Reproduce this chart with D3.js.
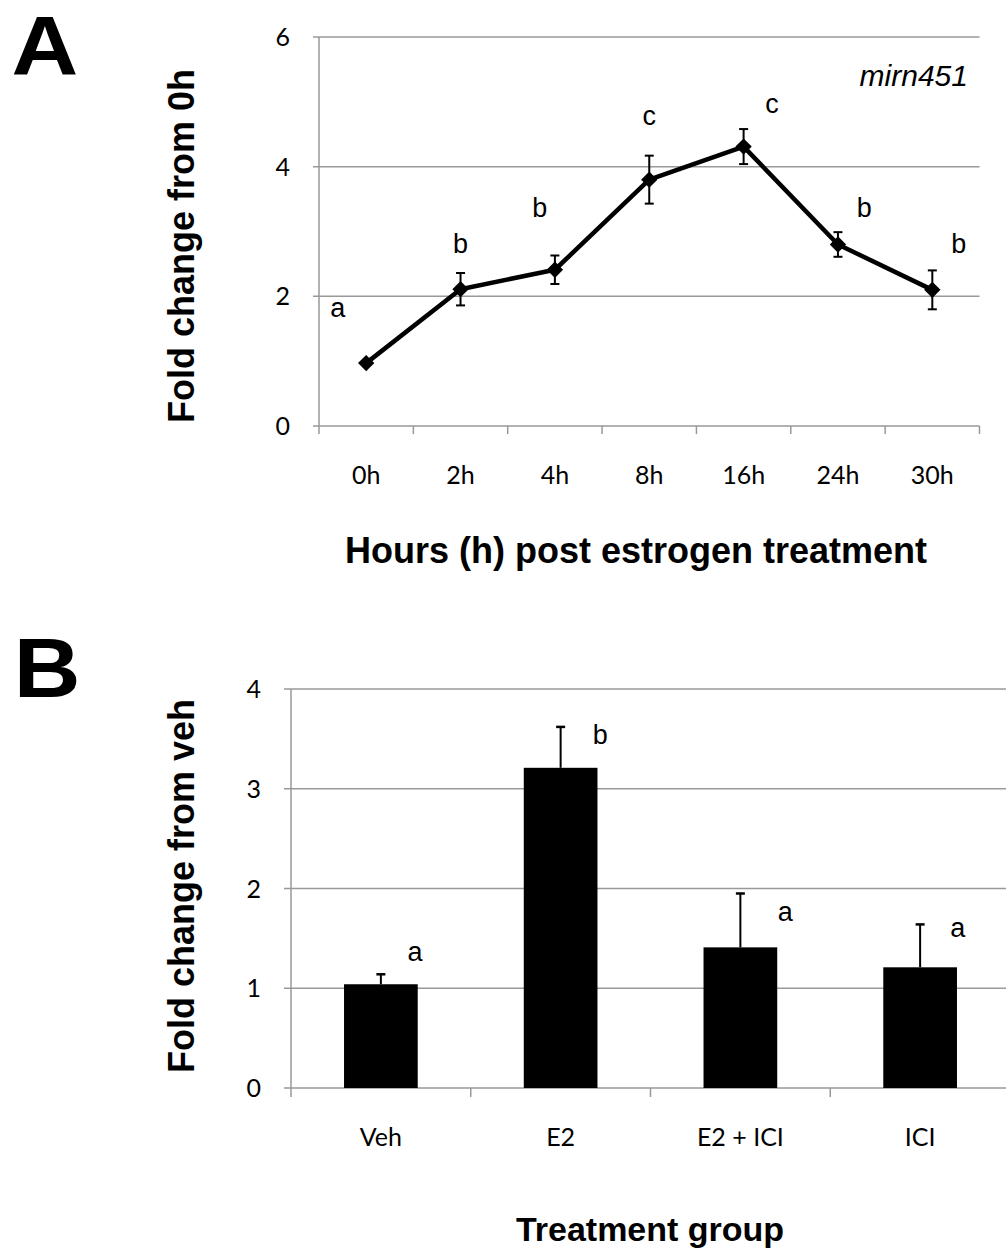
<!DOCTYPE html>
<html><head><meta charset="utf-8">
<script src="https://cdn.jsdelivr.net/npm/d3@7"></script>
<style>body{margin:0;background:#fff}</style>
</head><body>
<svg id="c" width="1006" height="1250"></svg>
<script>
// ---- Panel A data ----
const hours = ["0h","2h","4h","8h","16h","24h","30h"];
const foldA = [0.97, 2.11, 2.41, 3.80, 4.31, 2.80, 2.10];
const errA  = [0.03, 0.25, 0.22, 0.37, 0.27, 0.19, 0.30];
const lettersA = ["a","b","b","c","c","b","b"];
const letterAY = [1.83, 2.82, 3.38, 4.80, 4.97, 3.38, 2.82];   // value units
const letterADx = [-0.30, 0.0, -0.16, 0.0, 0.30, 0.28, 0.28];  // band fractions
const ticksA = [0, 2, 4, 6];

// ---- Panel B data ----
const groups = ["Veh","E2","E2 + ICI","ICI"];
const foldB = [1.04, 3.21, 1.41, 1.21];
const errB  = [0.10, 0.41, 0.54, 0.43];
const lettersB = ["a","b","a","a"];
const letterBY = [1.37, 3.55, 1.77, 1.61];
const letterBDx = [0.19, 0.22, 0.25, 0.21];
const ticksB = [0, 1, 2, 3, 4];

const svg = d3.select("#c");
const grid = "#999";
const tickFont = "Lato, 'Open Sans', sans-serif";
const arial = "'Liberation Sans', Arial, sans-serif";
const TICK = 25, LET = 27, TITLE = 36;

// ================= Panel A =================
{
  const x = d3.scaleBand().domain(hours).range([319, 979.5]);
  const y = d3.scaleLinear().domain([0, 6]).range([426, 37]);
  const g = svg.append("g");

  g.selectAll(".gl").data(ticksA).join("line")
    .attr("x1", 313).attr("x2", 979.5)
    .attr("y1", d => y(d)).attr("y2", d => y(d))
    .attr("stroke", grid).attr("stroke-width", 1.5);
  g.append("line").attr("x1", 319).attr("x2", 319).attr("y1", y(6)).attr("y2", 434)
    .attr("stroke", grid).attr("stroke-width", 1.5);
  const xt = hours.map(h => x(h)).concat([x(hours[hours.length-1]) + x.bandwidth()]);
  g.selectAll(".xt").data(xt.slice(1)).join("line")
    .attr("x1", d => d).attr("x2", d => d).attr("y1", 426).attr("y2", 434)
    .attr("stroke", grid).attr("stroke-width", 1.5);
  g.selectAll(".yl").data(ticksA).join("text")
    .attr("x", 290).attr("y", d => y(d)).attr("dy", "0.36em")
    .attr("text-anchor", "end").attr("font-family", tickFont).attr("font-size", TICK)
    .text(d => d);
  g.selectAll(".xl").data(hours).join("text")
    .attr("x", d => x(d) + x.bandwidth()/2).attr("y", 475).attr("dy", "0.36em")
    .attr("text-anchor", "middle").attr("font-family", tickFont).attr("font-size", TICK)
    .text(d => d);

  const cx = d => x(d) + x.bandwidth()/2;
  hours.forEach((h, i) => {
    const lo = y(foldA[i] - errA[i]), hi = y(foldA[i] + errA[i]);
    g.append("line").attr("x1", cx(h)).attr("x2", cx(h)).attr("y1", lo).attr("y2", hi)
      .attr("stroke", "#000").attr("stroke-width", 2);
    [lo, hi].forEach(v => g.append("line").attr("x1", cx(h)-4.5).attr("x2", cx(h)+4.5)
      .attr("y1", v).attr("y2", v).attr("stroke", "#000").attr("stroke-width", 2));
  });
  g.append("path").datum(hours.map((h, i) => [cx(h), y(foldA[i])]))
    .attr("d", d3.line()).attr("fill", "none").attr("stroke", "#000")
    .attr("stroke-width", 4.5).attr("stroke-linejoin", "round");
  g.selectAll(".pt").data(hours).join("path")
    .attr("d", d3.symbol(d3.symbolDiamond2, 170))
    .attr("transform", (d, i) => `translate(${cx(d)},${y(foldA[i])})`)
    .attr("fill", "#000");
  g.selectAll(".lt").data(lettersA).join("text")
    .attr("x", (d, i) => cx(hours[i]) + letterADx[i] * x.bandwidth())
    .attr("y", (d, i) => y(letterAY[i])).attr("dy", "0.36em")
    .attr("text-anchor", "middle").attr("font-family", arial).attr("font-size", LET)
    .text(d => d);
  g.append("text").attr("x", 968).attr("y", 75).attr("dy", "0.36em")
    .attr("text-anchor", "end").attr("font-family", arial).attr("font-style", "italic")
    .attr("font-size", 30).text("mirn451");

  g.append("text").attr("x", 636).attr("y", 550).attr("dy", "0.36em")
    .attr("text-anchor", "middle").attr("font-family", arial).attr("font-weight", "bold")
    .attr("font-size", TITLE).text("Hours (h) post estrogen treatment");
  g.append("text").attr("transform", "translate(181,246) rotate(-90)").attr("dy", "0.36em")
    .attr("text-anchor", "middle").attr("font-family", arial).attr("font-weight", "bold")
    .attr("font-size", TITLE).text("Fold change from 0h");
  g.append("text").attr("x", 45).attr("y", 75)
    .attr("text-anchor", "middle").attr("font-family", arial).attr("font-weight", "bold")
    .attr("font-size", 84).attr("transform", "translate(45,0) scale(1.1,1) translate(-45,0)").text("A");
}

// ================= Panel B =================
{
  const x = d3.scaleBand().domain(groups).range([291, 1010]);
  const y = d3.scaleLinear().domain([0, 4]).range([1088, 689]);
  const g = svg.append("g");

  g.selectAll(".gl").data(ticksB).join("line")
    .attr("x1", 284).attr("x2", 1010)
    .attr("y1", d => y(d)).attr("y2", d => y(d))
    .attr("stroke", grid).attr("stroke-width", 1.5);
  g.append("line").attr("x1", 291).attr("x2", 291).attr("y1", y(4)).attr("y2", 1097)
    .attr("stroke", grid).attr("stroke-width", 1.5);
  g.selectAll(".xt").data(groups.slice(1)).join("line")
    .attr("x1", d => x(d)).attr("x2", d => x(d)).attr("y1", 1088).attr("y2", 1097)
    .attr("stroke", grid).attr("stroke-width", 1.5);
  g.selectAll(".yl").data(ticksB).join("text")
    .attr("x", 261).attr("y", d => y(d)).attr("dy", "0.36em")
    .attr("text-anchor", "end").attr("font-family", tickFont).attr("font-size", TICK)
    .text(d => d);
  g.selectAll(".xl").data(groups).join("text")
    .attr("x", d => x(d) + x.bandwidth()/2).attr("y", 1137).attr("dy", "0.36em")
    .attr("text-anchor", "middle").attr("font-family", tickFont).attr("font-size", TICK)
    .text(d => d);

  const bw = x.bandwidth() * 0.41;
  const cx = d => x(d) + x.bandwidth()/2;
  groups.forEach((gname, i) => {
    const top = y(foldB[i] + errB[i]);
    g.append("line").attr("x1", cx(gname)).attr("x2", cx(gname))
      .attr("y1", y(foldB[i])).attr("y2", top).attr("stroke", "#000").attr("stroke-width", 2);
    g.append("line").attr("x1", cx(gname)-4.5).attr("x2", cx(gname)+4.5)
      .attr("y1", top).attr("y2", top).attr("stroke", "#000").attr("stroke-width", 2.5);
  });
  g.selectAll(".bar").data(groups).join("rect")
    .attr("x", d => cx(d) - bw/2).attr("width", bw)
    .attr("y", (d, i) => y(foldB[i])).attr("height", (d, i) => y(0) - y(foldB[i]))
    .attr("fill", "#000");
  g.selectAll(".lt").data(lettersB).join("text")
    .attr("x", (d, i) => cx(groups[i]) + letterBDx[i] * x.bandwidth())
    .attr("y", (d, i) => y(letterBY[i])).attr("dy", "0.36em")
    .attr("text-anchor", "middle").attr("font-family", arial).attr("font-size", LET)
    .text(d => d);

  g.append("text").attr("x", 650).attr("y", 1241)
    .attr("text-anchor", "middle").attr("font-family", arial).attr("font-weight", "bold")
    .attr("font-size", 34).text("Treatment group");
  g.append("text").attr("transform", "translate(181,886) rotate(-90)").attr("dy", "0.36em")
    .attr("text-anchor", "middle").attr("font-family", arial).attr("font-weight", "bold")
    .attr("font-size", TITLE).text("Fold change from veh");
  g.append("text").attr("x", 47).attr("y", 697)
    .attr("text-anchor", "middle").attr("font-family", arial).attr("font-weight", "bold")
    .attr("font-size", 84).attr("transform", "translate(47,0) scale(1.1,1) translate(-47,0)").text("B");
}
</script>
</body></html>
